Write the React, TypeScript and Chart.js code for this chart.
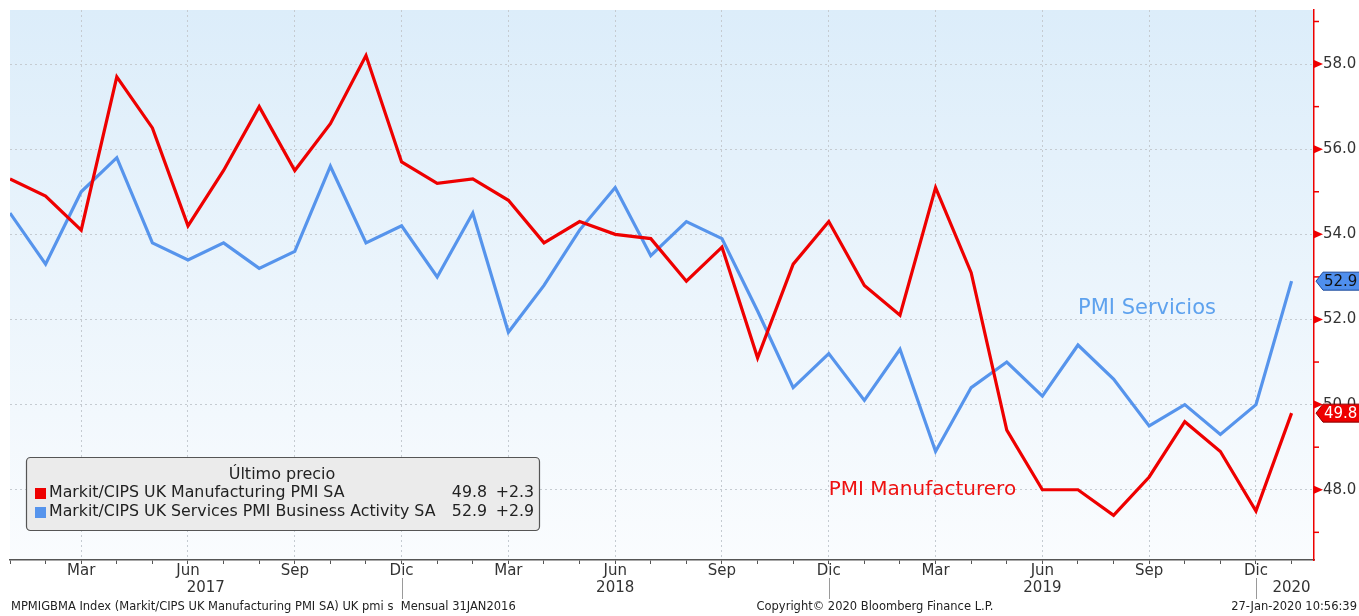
import React, { useEffect, useRef } from 'react';
import { Chart, registerables } from 'chart.js';

Chart.register(...registerables);

// ---------- data ----------
const MONTHS = ['Ene', 'Feb', 'Mar', 'Abr', 'May', 'Jun', 'Jul', 'Ago', 'Sep', 'Oct', 'Nov', 'Dic'];
const LABELED_MONTHS = ['Mar', 'Jun', 'Sep', 'Dic'];
const YEARS = ['2017', '2018', '2019', '2020'];
// months Jan 2017 .. Jan 2020
const categories: string[] = [];
for (let i = 0; i < 37; i++) categories.push(`${MONTHS[i % 12]} ${2017 + Math.floor(i / 12)}`);

const manufacturing = [
  55.3, 54.9, 54.1, 57.7, 56.5, 54.2, 55.5, 57.0, 55.5, 56.6, 58.2, 55.7,
  55.2, 55.3, 54.8, 53.8, 54.3, 54.0, 53.9, 52.9, 53.7, 51.1, 53.3, 54.3,
  52.8, 52.1, 55.1, 53.1, 49.4, 48.0, 48.0, 47.4, 48.3, 49.6, 48.9, 47.5,
  49.8,
];
const services = [
  54.5, 53.3, 55.0, 55.8, 53.8, 53.4, 53.8, 53.2, 53.6, 55.6, 53.8, 54.2,
  53.0, 54.5, 51.7, 52.8, 54.1, 55.1, 53.5, 54.3, 53.9, 52.2, 50.4, 51.2,
  50.1, 51.3, 48.9, 50.4, 51.0, 50.2, 51.4, 50.6, 49.5, 50.0, 49.3, 50.0,
  52.9,
];
const yTicks = [47, 48, 49, 50, 51, 52, 53, 54, 55, 56, 57, 58, 59];

const SERIES_NAMES = [
  'Markit/CIPS UK Manufacturing PMI SA',
  'Markit/CIPS UK Services PMI Business Activity SA',
];
const LEGEND_TITLE = 'Último precio';
const LABEL_SERV = 'PMI Servicios';
const LABEL_MANUF = 'PMI Manufacturero';
const FOOT_LEFT = 'MPMIGBMA Index (Markit/CIPS UK Manufacturing PMI SA) UK pmi s  Mensual 31JAN2016';
const FOOT_MID = 'Copyright© 2020 Bloomberg Finance L.P.';
const FOOT_RIGHT = '27-Jan-2020 10:56:39';

// ---------- styles ----------
const FONT = '"DejaVu Sans", Verdana, sans-serif';
const RED = '#ee0000';
const BLUE = '#5694ec';
const GRID = '#c5cbd1';

const decorPlugin = {
  id: 'decor',
  beforeDraw(chart: any) {
    const { ctx, chartArea: a } = chart;
    ctx.save();
    const g = ctx.createLinearGradient(0, a.top, 0, a.bottom);
    g.addColorStop(0, '#dcedfa');
    g.addColorStop(1, '#fafcfe');
    ctx.fillStyle = g;
    ctx.fillRect(a.left, a.top, a.right - a.left, a.bottom - a.top);
    ctx.restore();
  },
  afterDraw(chart: any) {
    const { ctx, chartArea: a } = chart;
    const xs = chart.scales.x;
    const ys = chart.scales.y;
    ctx.save();

    // y tick markers
    ctx.fillStyle = RED;
    ctx.strokeStyle = RED;
    ctx.lineWidth = 1.5;
    yTicks.forEach((v) => {
      const y = ys.getPixelForValue(v);
      if (v % 2 === 0) {
        ctx.beginPath();
        ctx.moveTo(a.right, y - 4);
        ctx.lineTo(a.right + 9, y);
        ctx.lineTo(a.right, y + 4);
        ctx.closePath();
        ctx.fill();
      } else {
        ctx.beginPath();
        ctx.moveTo(a.right, y);
        ctx.lineTo(a.right + 5, y);
        ctx.stroke();
      }
    });

    // year labels and separators
    ctx.fillStyle = '#333';
    ctx.font = `15px ${FONT}`;
    ctx.textAlign = 'center';
    ctx.textBaseline = 'middle';
    const yearPos = [5.5, 17, 29, 36];
    YEARS.forEach((yr, i) => {
      ctx.fillText(yr, xs.getPixelForValue(yearPos[i]), 588);
    });
    ctx.strokeStyle = '#9a9a9a';
    ctx.lineWidth = 1;
    categories.forEach((c, i) => {
      if (i % 12 === 11) {
        const x = Math.round(xs.getPixelForValue(i)) + 0.5;
        ctx.beginPath();
        ctx.moveTo(x, 578);
        ctx.lineTo(x, 599);
        ctx.stroke();
      }
    });

    // series annotations
    ctx.textAlign = 'left';
    ctx.font = `21px ${FONT}`;
    ctx.fillStyle = '#5ea2ee';
    ctx.fillText(LABEL_SERV, xs.getPixelForValue(30), ys.getPixelForValue(52.25));
    ctx.font = `20px ${FONT}`;
    ctx.fillStyle = '#ee1111';
    ctx.fillText(LABEL_MANUF, xs.getPixelForValue(23), ys.getPixelForValue(48.0));

    // last value tags
    const tag = (val: number, fill: string, stroke: string, txt: string) => {
      const y = ys.getPixelForValue(val);
      const x0 = a.right + 2;
      ctx.beginPath();
      ctx.moveTo(x0, y);
      ctx.lineTo(x0 + 7, y - 9);
      ctx.lineTo(1362, y - 9);
      ctx.lineTo(1362, y + 9);
      ctx.lineTo(x0 + 7, y + 9);
      ctx.closePath();
      ctx.fillStyle = fill;
      ctx.fill();
      ctx.strokeStyle = stroke;
      ctx.lineWidth = 1;
      ctx.stroke();
      ctx.fillStyle = txt;
      ctx.font = `15px ${FONT}`;
      ctx.textAlign = 'left';
      ctx.textBaseline = 'middle';
      ctx.fillText(val.toFixed(1), x0 + 8, y + 1);
    };
    tag(services[services.length - 1], '#4f8fee', '#1d4a9a', '#111');
    tag(manufacturing[manufacturing.length - 1], RED, '#8a0000', '#fff');

    // legend box
    const bx = 26.5, by = 457.5, bw = 513, bh = 73;
    ctx.beginPath();
    if (ctx.roundRect) ctx.roundRect(bx, by, bw, bh, 4);
    else ctx.rect(bx, by, bw, bh);
    ctx.fillStyle = '#ebebeb';
    ctx.fill();
    ctx.strokeStyle = '#555';
    ctx.lineWidth = 1.2;
    ctx.stroke();
    ctx.fillStyle = '#222';
    ctx.font = `16px ${FONT}`;
    ctx.textAlign = 'center';
    ctx.fillText(LEGEND_TITLE, 282, 475);
    const rows = [
      { name: SERIES_NAMES[0], data: manufacturing, color: RED, y: 493 },
      { name: SERIES_NAMES[1], data: services, color: BLUE, y: 512 },
    ];
    rows.forEach((r) => {
      const last = r.data[r.data.length - 1];
      const prev = r.data[r.data.length - 2];
      const chg = last - prev;
      ctx.fillStyle = r.color;
      ctx.fillRect(35, r.y - 5, 11, 11);
      ctx.fillStyle = '#222';
      ctx.font = `15.8px ${FONT}`;
      ctx.textAlign = 'left';
      ctx.fillText(r.name, 49, r.y);
      ctx.textAlign = 'right';
      ctx.fillText(last.toFixed(1), 487, r.y);
      ctx.fillText((chg >= 0 ? '+' : '') + chg.toFixed(1), 534, r.y);
    });

    // footer
    ctx.fillStyle = '#222';
    ctx.font = `11.5px ${FONT}`;
    ctx.textBaseline = 'middle';
    ctx.textAlign = 'left';
    ctx.fillText(FOOT_LEFT, 11, 607);
    ctx.textAlign = 'center';
    ctx.fillText(FOOT_MID, 875, 607);
    ctx.textAlign = 'right';
    ctx.fillText(FOOT_RIGHT, 1357, 607);

    ctx.restore();
  },
};

export default function App() {
  const ref = useRef<HTMLCanvasElement | null>(null);
  useEffect(() => {
    document.body.style.margin = '0';
    const canvas = ref.current;
    if (!canvas) return;
    const chart = new Chart(canvas, {
      type: 'line',
      data: {
        datasets: [
          {
            label: SERIES_NAMES[0],
            data: manufacturing.map((y, i) => ({ x: i, y })),
            borderColor: RED,
            borderWidth: 3.2,
            pointRadius: 0,
            tension: 0,
            fill: false,
          },
          {
            label: SERIES_NAMES[1],
            data: services.map((y, i) => ({ x: i, y })),
            borderColor: BLUE,
            borderWidth: 3.2,
            pointRadius: 0,
            tension: 0,
            fill: false,
          },
        ],
      },
      options: {
        animation: false,
        responsive: false,
        maintainAspectRatio: false,
        layout: { padding: { left: 10, top: 10, right: 0, bottom: 0 } },
        plugins: { legend: { display: false }, tooltip: { enabled: false } },
        scales: {
          x: {
            type: 'linear',
            min: 0,
            max: 36.63,
            afterBuildTicks: (s: any) => {
              s.ticks = categories.map((_, i) => ({ value: i }));
            },
            afterFit: (s: any) => {
              s.height = 56;
              s.paddingLeft = 0;
              s.paddingRight = 0;
            },
            ticks: {
              autoSkip: false,
              maxRotation: 0,
              padding: -2,
              color: '#333',
              font: { family: FONT, size: 15 },
              callback: (v: any) => {
                const m = MONTHS[Math.round(v) % 12];
                return LABELED_MONTHS.includes(m) ? m : '';
              },
            },
            grid: {
              color: (c: any) =>
                c.tick && LABELED_MONTHS.includes(MONTHS[Math.round(c.tick.value) % 12]) ? GRID : 'rgba(0,0,0,0)',
              lineWidth: 1,
              drawTicks: true,
              tickLength: 4,
              tickColor: '#555',
              tickWidth: 1,
            },
            border: { display: true, color: '#555', width: 1.5, dash: [2, 3] },
          },
          y: {
            type: 'linear',
            position: 'right',
            min: 46.35,
            max: 59.27,
            afterBuildTicks: (s: any) => {
              s.ticks = yTicks.map((v) => ({ value: v }));
            },
            afterFit: (s: any) => {
              s.width = 45;
              s.paddingTop = 0;
              s.paddingBottom = 0;
            },
            ticks: {
              padding: 9,
              color: '#333',
              font: { family: FONT, size: 15 },
              callback: (v: any) => (Math.round(v) % 2 === 0 ? Number(v).toFixed(1) : ''),
            },
            grid: {
              color: (c: any) => (c.tick && Math.round(c.tick.value) % 2 === 0 ? GRID : 'rgba(0,0,0,0)'),
              lineWidth: 1,
              drawTicks: false,
            },
            border: { display: true, color: RED, width: 1.5, dash: [2, 3] },
          },
        },
      },
      plugins: [decorPlugin],
    });
    return () => chart.destroy();
  }, []);
  return (
    <div style={{ position: 'fixed', left: 0, top: 0, width: 1359, height: 616, background: '#fff' }}>
      <canvas ref={ref} width={1359} height={616} style={{ display: 'block' }} />
    </div>
  );
}
